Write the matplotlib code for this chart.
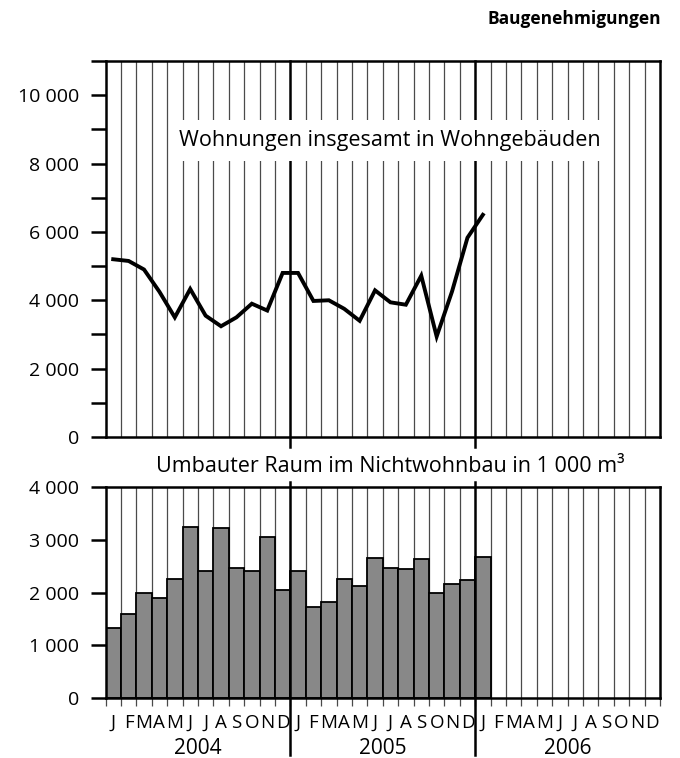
import matplotlib
matplotlib.use("Agg")
import matplotlib.pyplot as plt
import matplotlib.transforms as mtransforms
import numpy as np

plt.rcParams['font.family'] = ['Open Sans', 'DejaVu Sans']

# ---- data ----
months = ["J", "F", "M", "A", "M", "J", "J", "A", "S", "O", "N", "D"]
years = ["2004", "2005", "2006"]

wohnungen = [5200, 5150, 4900, 4250, 3500, 4330, 3550, 3240, 3500, 3900, 3700, 4800,
             4800, 3980, 4000, 3750, 3400, 4290, 3940, 3870, 4720, 2940, 4260, 5830,
             6500]

umbauter_raum = [1330, 1600, 2000, 1900, 2250, 3240, 2410, 3220, 2470, 2410, 3060, 2050,
                 2410, 1730, 1820, 2260, 2120, 2660, 2460, 2450, 2640, 2000, 2160, 2230,
                 2680]

top_ticks = list(range(0, 11001, 1000))
top_labels = ["0" if v == 0 else f"{v // 1000} 000" if v % 2000 == 0 and v <= 10000 else "" for v in top_ticks]
bot_ticks = [0, 1000, 2000, 3000, 4000]
bot_labels = ["0" if v == 0 else f"{v // 1000} 000" for v in bot_ticks]

W, H = 680, 758
fig = plt.figure(figsize=(W / 100, H / 100), dpi=100)

def frac(x0, y0, x1, y1):
    return [x0 / W, 1 - y1 / H, (x1 - x0) / W, (y1 - y0) / H]

n_months = 36
spine_lw = 1.8
grid_color = "#4a4a4a"

ax1 = fig.add_axes(frac(105.5, 61, 660, 437))
ax2 = fig.add_axes(frac(105.5, 487, 660, 698))

for ax in (ax1, ax2):
    ax.set_xlim(0, n_months)
    for s in ax.spines.values():
        s.set_linewidth(spine_lw)
    for b in range(1, n_months):
        if b % 12 != 0:
            ax.axvline(b, color=grid_color, lw=0.9, zorder=0.5)
    ax.tick_params(axis='y', length=11, width=spine_lw, pad=8, labelsize=14)

# ---- top panel ----
ax1.set_ylim(0, 11000)
ax1.set_yticks(top_ticks)
ax1.set_yticklabels(top_labels)
ax1.set_xticks([])
x_line = np.arange(len(wohnungen)) + 0.5
ax1.plot(x_line, wohnungen, color="black", lw=2.8, solid_joinstyle="miter", zorder=3)
ax1.text(0.512, 0.789, "Wohnungen insgesamt in Wohngebäuden", transform=ax1.transAxes,
         ha="center", va="center", fontsize=15.5,
         bbox=dict(boxstyle="square,pad=0.45", fc="white", ec="none"), zorder=6)

# ---- bottom panel ----
ax2.set_ylim(0, 4000)
ax2.set_yticks(bot_ticks)
ax2.set_yticklabels(bot_labels)
x_bar = np.arange(len(umbauter_raum)) + 0.5
ax2.bar(x_bar, umbauter_raum, width=1.0, color="#888888", edgecolor="black", lw=1.3, zorder=2)
ax2.set_xticks(range(0, n_months + 1))
ax2.set_xticklabels([])
ax2.tick_params(axis='x', length=6, width=0.9, color=grid_color)

trans2 = mtransforms.blended_transform_factory(ax2.transData, ax2.transAxes)
for i in range(n_months):
    ax2.text(i + 0.5, -0.118, months[i % 12], transform=trans2, ha="center", va="center",
             fontsize=13.5)
for k, y in enumerate(years):
    ax2.text(12 * k + 6, -0.237, y, transform=trans2, ha="center", va="center", fontsize=15)

# year separators
trans1 = mtransforms.blended_transform_factory(ax1.transData, ax1.transAxes)
for b in (12, 24):
    ax1.plot([b, b], [-0.027, 1.0], transform=trans1, color="black", lw=spine_lw,
             clip_on=False, zorder=4)
    ax2.plot([b, b], [-0.27, 1.024], transform=trans2, color="black", lw=spine_lw,
             clip_on=False, zorder=4)

fig.text(390 / W, 1 - 467 / H, "Umbauter Raum im Nichtwohnbau in 1 000 m³",
         ha="center", va="center", fontsize=15.5)
fig.text(661 / W, 1 - 19 / H, "Baugenehmigungen", ha="right", va="center",
         fontsize=12.5, fontweight="bold")

fig.savefig("out.png", dpi=100)
